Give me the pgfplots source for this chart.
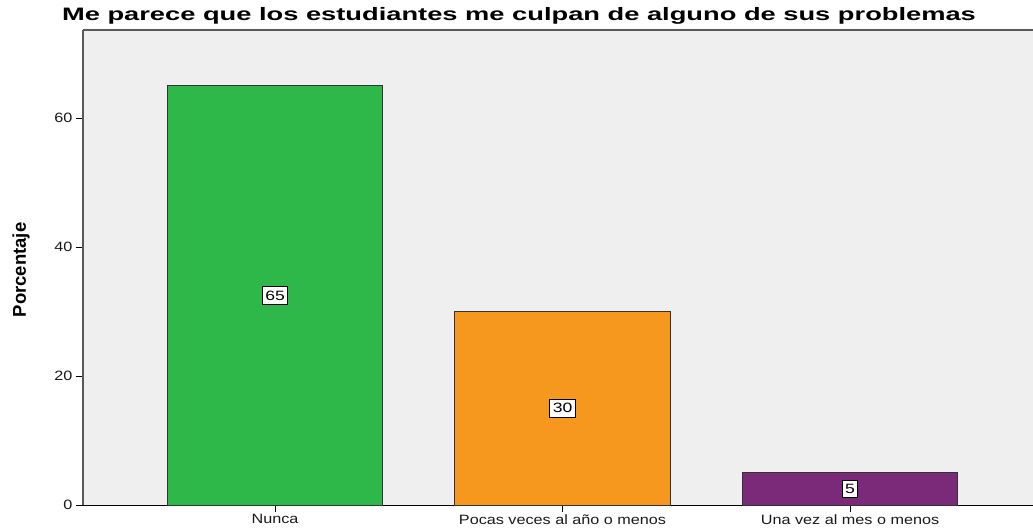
\documentclass[border=0pt]{standalone}
\usepackage{pgfplots}
\pgfplotsset{compat=1.18}
\usepackage{fontspec}
\setmainfont{Liberation Sans}
\newfontfamily\widefont{Liberation Sans}[FakeStretch=1.2]
\newfontfamily\boxfont{Liberation Sans}[FakeStretch=1.3]
\newfontfamily\titlefont{Liberation Sans}[FakeStretch=1.515]
\definecolor{bg}{HTML}{EFEFEF}
\definecolor{cgreen}{HTML}{2EB84A}
\definecolor{corange}{HTML}{F7981E}
\definecolor{cpurple}{HTML}{7B2A7A}
\begin{document}
\begin{tikzpicture}[x=1pt,y=1pt]
\clip (0,0) rectangle (1033,531);
\begin{axis}[
  at={(83pt,26pt)}, anchor=south west,
  scale only axis, width=970pt, height=475pt,
  xmin=-0.668, xmax=2.706, ymin=0, ymax=73.64,
  axis x line*=bottom, axis y line*=left,
  axis background/.style={fill=bg},
  x axis line style={black, line width=1pt, -},
  y axis line style={black!65, line width=2pt, -},
  ybar, bar width=0.75, bar shift=0pt,
  xtick={0,1,2},
  xticklabels={Nunca, Pocas veces al año o menos, Una vez al mes o menos},
  ytick={0,20,40,60},
  tick align=outside, major tick length=7pt,
  tick style={black, line width=0.9pt},
  /pgf/number format/assume math mode=true,
  ticklabel style={font=\widefont\fontsize{13.5}{15}\selectfont, text=black!90},
  xticklabel style={yshift=1pt},
  ylabel={\fontsize{18.5}{20}\selectfont\bfseries Porcentaje},
  ylabel style={at={(rel axis cs:0,0.495)}, yshift=62pt, anchor=center},
  visualization depends on={y \as \rawy},
  nodes near coords,
  every node near coord/.append style={anchor=center, shift={(axis direction cs:0,-\rawy/2)},
    fill=white, draw=black, line width=1pt, inner xsep=3pt, inner ysep=4pt,
    font=\boxfont\fontsize{13.5}{15}\selectfont},
  clip=false,
]
\addplot[fill=cgreen, draw=black!80, line width=0.9pt] coordinates {(0,65)};
\addplot[fill=corange, draw=black!80, line width=0.9pt] coordinates {(1,30)};
\addplot[fill=cpurple, draw=black!80, line width=0.9pt] coordinates {(2,5)};
\draw[black!65, line width=1.5pt] (rel axis cs:0,1) -- (rel axis cs:1,1);
\end{axis}
\node[font=\titlefont\fontsize{18}{20}\selectfont\bfseries] at (519,515) {Me parece que los estudiantes me culpan de alguno de sus problemas};
\end{tikzpicture}
\end{document}
